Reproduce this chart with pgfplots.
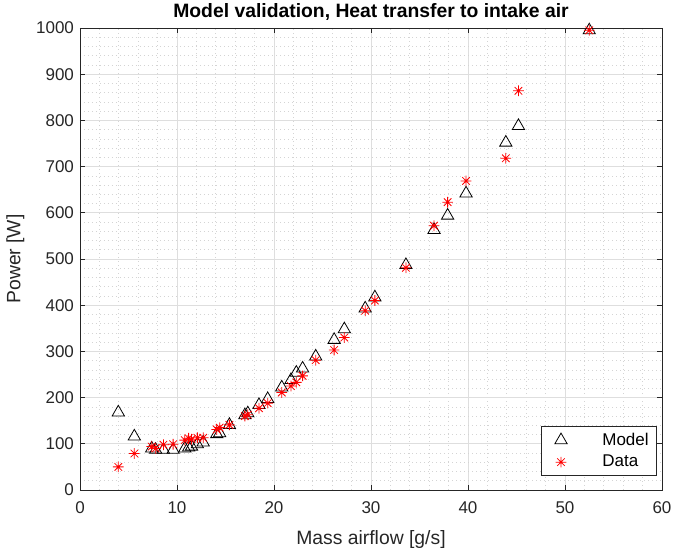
\documentclass[border=0pt]{standalone}
\usepackage{pgfplots}
\pgfplotsset{compat=1.18}
\usepackage{fontspec}
\setmainfont{Liberation Sans}
\definecolor{axgray}{RGB}{38,38,38}
\definecolor{majgrid}{RGB}{222,222,222}
\definecolor{mingrid}{RGB}{212,212,212}
\pgfdeclareplotmark{ast8}{%
 \pgfpathmoveto{\pgfqpoint{-\pgfplotmarksize}{0pt}}\pgfpathlineto{\pgfqpoint{\pgfplotmarksize}{0pt}}%
 \pgfpathmoveto{\pgfqpoint{0pt}{-\pgfplotmarksize}}\pgfpathlineto{\pgfqpoint{0pt}{\pgfplotmarksize}}%
 \pgfpathmoveto{\pgfqpoint{-0.7071\pgfplotmarksize}{-0.7071\pgfplotmarksize}}\pgfpathlineto{\pgfqpoint{0.7071\pgfplotmarksize}{0.7071\pgfplotmarksize}}%
 \pgfpathmoveto{\pgfqpoint{-0.7071\pgfplotmarksize}{0.7071\pgfplotmarksize}}\pgfpathlineto{\pgfqpoint{0.7071\pgfplotmarksize}{-0.7071\pgfplotmarksize}}%
 \pgfusepathqstroke}
\pgfplotstableread{
x y
3.95 168
5.6 116
7.39 90
7.8 87
8.6 87
9.6 87
10.8 90
11.2 92
11.5 94
12.1 99
12.7 103
14.1 121
14.4 123
15.4 141
17.0 162
17.3 166
18.45 184
19.35 197
20.8 222
21.75 238
22.3 254
22.95 263
24.3 289
26.2 325
27.25 348
29.4 393
30.4 417
33.6 487
36.5 563
37.9 594
39.8 642
43.9 752
45.2 788
52.5 995
}\modeltab
\pgfplotstableread{
x y
3.95 50
5.6 79
7.39 94
7.8 90
8.6 98
9.6 99
10.8 108
11.2 112
11.5 110
12.1 113
12.7 113
14.1 131
14.4 135
15.4 141
17.0 160
17.3 163
18.45 177
19.35 188
20.8 211
21.75 225
22.3 233
22.95 247
24.3 281
26.2 303
27.25 330
29.4 388
30.4 410
33.6 481
36.5 572
37.9 623
39.8 669
43.9 718
45.2 864
52.5 995
}\datatab
\begin{document}
\begin{tikzpicture}
\path[use as bounding box] (-60pt,-47.25pt) rectangle (446.25pt,367.5pt);
\begin{axis}[
  at={(0,0)}, anchor=south west,
  scale only axis, width=436.5pt, height=346.5pt,
  xmin=0, xmax=60, ymin=0, ymax=1000,
  xtick={0,10,...,60}, ytick={0,100,...,1000},
  minor x tick num=4, minor y tick num=4,
  grid=both,
  major grid style={majgrid, line width=0.5pt},
  minor grid style={mingrid, dash pattern=on 0.75pt off 2.25pt, line width=0.5pt},
  axis line style={axgray, line width=0.5pt},
  tick style={axgray, line width=0.5pt},
  major tick length=4pt, minor tick length=0pt,
  tick align=inside,
  /pgf/number format/1000 sep={},
  /pgf/number format/assume math mode=true,
  ticklabel style={font=\fontsize{12.75}{15}\selectfont, text=axgray},
  xticklabel style={yshift=-5pt},
  yticklabel style={xshift=-1pt},
  xlabel={Mass airflow [g/s]}, ylabel={Power [W]},
  label style={font=\fontsize{14.5}{17}\selectfont, text=axgray},
  xlabel style={yshift=-6pt},
  ylabel style={yshift=2pt},
  title={Model validation, Heat transfer to intake air},
  title style={font=\fontsize{14.5}{17}\selectfont\bfseries, yshift=-4pt},
  legend style={at={(rel axis cs:0.9914,0.0303)}, anchor=south east,
    draw=axgray, fill=white, line width=0.5pt,
    font=\fontsize{12.75}{15}\selectfont, cells={anchor=west},
    row sep=2pt, inner xsep=4pt, inner ysep=3pt},
  legend image code/.code={\path[draw=none,fill=none] (0pt,-4pt) rectangle (40pt,4pt); \draw[#1] plot coordinates {(11pt,0pt)};},
]
\addplot[only marks, mark=triangle, mark size=5.3pt, draw=black, mark options={line width=0.6pt, fill=none}] table {\modeltab};
\addlegendentry{Model}
\addplot[only marks, mark=ast8, mark size=4pt, draw=red, mark options={line width=0.6pt}] table {\datatab};
\addlegendentry{Data}
\end{axis}
\end{tikzpicture}
\end{document}
